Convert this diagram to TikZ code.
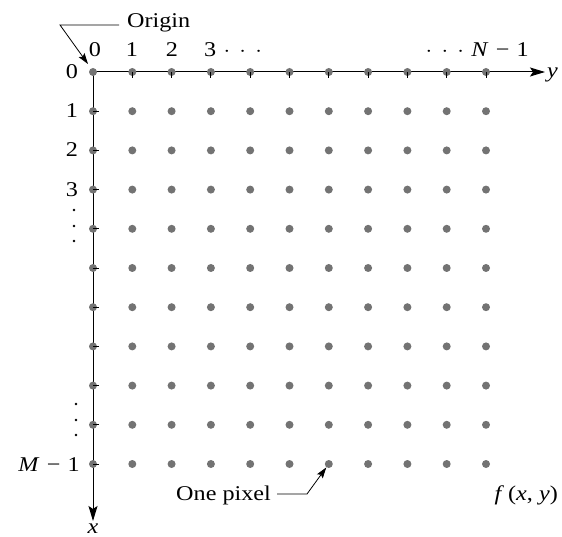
\documentclass[tikz,border=0pt]{standalone}
\usepackage{fontspec}
\setmainfont{Liberation Serif}
\usetikzlibrary{arrows.meta}
\newcommand\sx[1]{\scalebox{1.15}[1]{#1}}
\newcommand\msp{\hspace{0.3em}}
\begin{document}
\begin{tikzpicture}[x=1pt,y=-1pt,
  pix/.style={circle,fill=black!55,inner sep=0pt,minimum size=8pt},
  lab/.style={font=\fontsize{21}{24}\selectfont,inner sep=0pt},
  axis/.style={line width=1pt,-{Stealth[length=15pt,width=9pt,inset=3pt]}},
  lead/.style={line width=0.8pt,-{Stealth[length=11pt,width=7pt,inset=2pt]}},
  tick/.style={line width=0.9pt}]
\useasboundingbox (0,0) rectangle (562,537);
% axes
\coordinate (O) at (93,72);
\coordinate (yend) at (545,72);
\coordinate (xend) at (93,521);
\draw[axis] (O) -- (yend);
\draw[axis] (O) -- (xend);
\node[lab,anchor=base west] (ylab) at (547,78) {\sx{\textit{y}}};
\node[lab,anchor=base] (xlab) at (93,533) {\sx{\textit{x}}};
% dots
\foreach \i in {0,...,10}{
  \foreach \j in {0,...,10}{
    \node[pix] (p\i-\j) at ({93+39.3*\j},{72+39.2*\i}) {};
  }
}
% ticks
\foreach \j in {1,...,10}{
  \draw[tick] (p0-\j.center) -- ++(0,6);
}
\foreach \i in {1,...,10}{
  \draw[tick] (p\i-0.center) -- ++(6,0);
}
% top labels
\node[lab,anchor=base] (t0) at (95,57) {\sx{0}};
\node[lab,anchor=base] (t1) at (132,57) {\sx{1}};
\node[lab,anchor=base] (t2) at (172,57) {\sx{2}};
\node[lab,anchor=base west] (t3) at (204,57) {\sx{3\msp$\cdot\,\cdot\,\cdot$}};
\node[lab,anchor=base east] (tN) at (529,57) {\sx{$\cdot\,\cdot\,\cdot$\msp\textit{N}\msp−\msp1}};
% left labels
\node[lab,anchor=base] (l0) at (72,79) {\sx{0}};
\node[lab,anchor=base] (l1) at (72,118) {\sx{1}};
\node[lab,anchor=base] (l2) at (72,157) {\sx{2}};
\node[lab,anchor=base] (l3) at (72,197) {\sx{3}};
\node[lab,anchor=base east] (lM) at (80,471) {\sx{\textit{M}\msp−\msp1}};
\foreach \yy in {210,226,241}{ \fill (74,\yy) circle (1.3pt); }
\foreach \yy in {404,420,435}{ \fill (76,\yy) circle (1.3pt); }
% origin label
\node[lab,anchor=base west] (orig) at (127,28) {\sx{Origin}};
\coordinate (oc) at (60,25);
\coordinate (os) at (119,25);
\draw[lead] (os) -- (oc) -- (88,64);
% one pixel
\node[lab,anchor=base east] (onep) at (271,500) {\sx{One pixel}};
\coordinate (ps) at (277,494);
\coordinate (pc) at (307,494);
\draw[lead] (ps) -- (pc) -- (p10-6);
% f(x,y)
\node[lab,anchor=base east] (fxy) at (558,500) {\sx{\textit{f}\,(\textit{x}, \textit{y})}};
\end{tikzpicture}
\end{document}
